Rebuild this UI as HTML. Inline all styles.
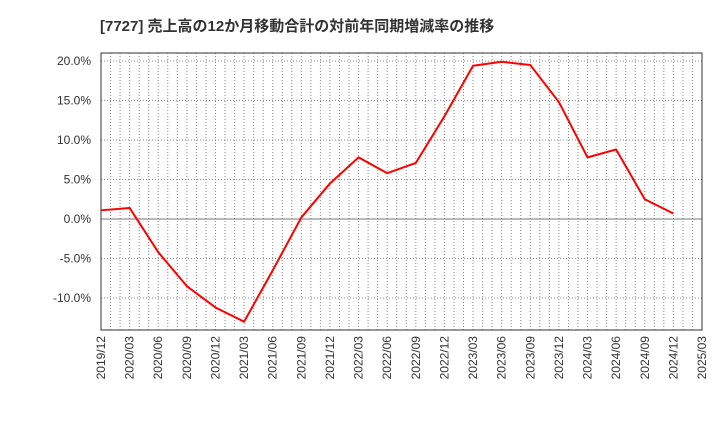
<!DOCTYPE html>
<html><head><meta charset="utf-8"><style>
body{margin:0;background:#fff;font-family:"Liberation Sans","Noto Sans CJK JP",sans-serif}
</style></head><body>
<svg id="c" width="720" height="440" xmlns="http://www.w3.org/2000/svg">
<text x="100" y="31" font-size="15" font-weight="bold" fill="#333">[7727]  売上高の12か月移動合計の対前年同期増減率の推移</text>
<g id="grid"></g><g id="axes"></g><g id="series"></g>
</svg>
<script>
const xLabels=["2019/12","2020/03","2020/06","2020/09","2020/12","2021/03","2021/06","2021/09","2021/12","2022/03","2022/06","2022/09","2022/12","2023/03","2023/06","2023/09","2023/12","2024/03","2024/06","2024/09","2024/12","2025/03"];
const values=[1.1,1.4,-4.2,-8.5,-11.2,-13.0,-6.5,0.2,4.5,7.8,5.8,7.1,13.0,19.4,19.9,19.5,14.8,7.8,8.8,2.5,0.7];
const yTicks=[20,15,10,5,0,-5,-10];
const L=101,R=702,T=53,B=330;
const x=i=>L+(R-L)*i/(xLabels.length-1);
const y=v=>219-v*7.9;
const ns="http://www.w3.org/2000/svg";
function mk(tag,attrs,parent,txt){const e=document.createElementNS(ns,tag);for(const k in attrs)e.setAttribute(k,attrs[k]);if(txt!==undefined)e.textContent=txt;document.getElementById(parent).appendChild(e);return e;}
const nMonths=(xLabels.length-1)*3;
for(let m=1;m<nMonths;m++){const px=L+(R-L)*m/nMonths;
const e=mk('line',{x1:px,x2:px,y1:T,y2:B,stroke:'#888','stroke-width':1,'stroke-dasharray':'1,2'},'grid');
}
yTicks.forEach(v=>{const py=y(v);
const g=mk('line',{x1:L,x2:R,y1:py,y2:py,stroke:v===0?'#777':'#888','stroke-width':1,'stroke-dasharray':v===0?'':'1,2'},'grid');

const t=mk('text',{x:91,y:py+4,'font-size':12,'text-anchor':'end',fill:'#333'},'axes',v.toFixed(1)+'%');
});
xLabels.forEach((s,i)=>{const px=x(i);
const t=mk('text',{x:0,y:0,'font-size':12,'text-anchor':'end',fill:'#333',transform:`translate(${px+4},336) rotate(-90)`},'axes',s);
});
const f=mk('rect',{x:L,y:T,width:R-L,height:B-T,fill:'none',stroke:'#333','stroke-width':1},'axes');

const p=mk('polyline',{points:values.map((v,i)=>x(i)+','+y(v)).join(' '),fill:'none',stroke:'#f00','stroke-width':2,'stroke-linejoin':'round'},'series');

</script>
</body></html>
